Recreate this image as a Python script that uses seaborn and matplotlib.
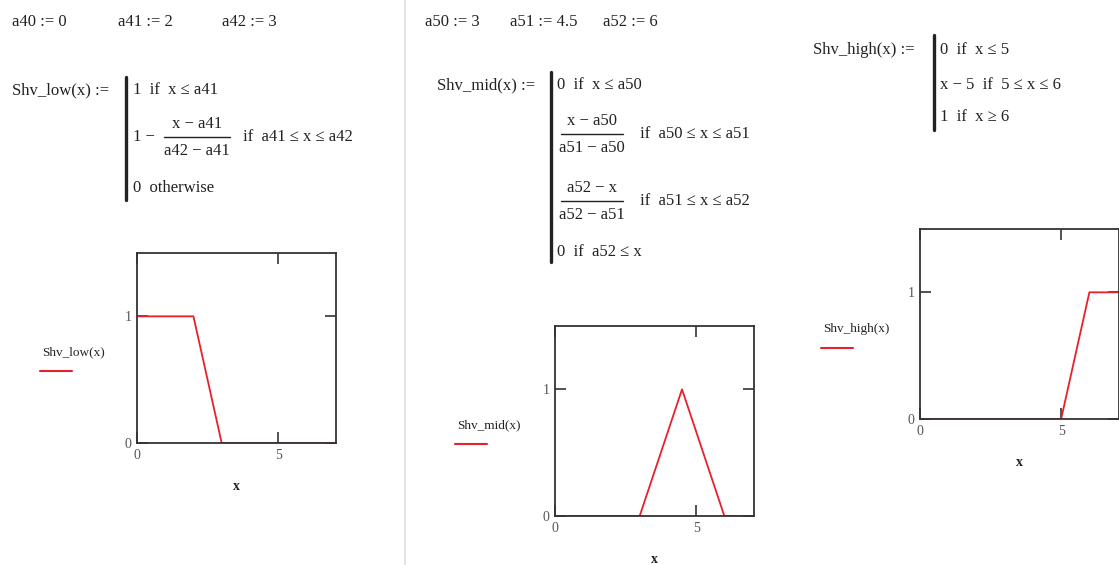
import numpy as np
import pandas as pd
import seaborn as sns
import matplotlib.pyplot as plt
from matplotlib.lines import Line2D

# breakpoints of the three membership functions
low_x = [0, 2, 3, 7]
low_y = [1, 1, 0, 0]
mid_x = [0, 3, 4.5, 6, 7]
mid_y = [0, 0, 1, 0, 0]
high_x = [0, 5, 6, 7]
high_y = [0, 0, 1, 1]
x_ticks = [0, 5]
y_ticks = [0, 1]

sns.set_style('white')
plt.rcParams['font.family'] = ['Liberation Serif', 'DejaVu Serif']

W, H = 1119, 565
fig = plt.figure(figsize=(W / 100, H / 100), dpi=100)
TXT = '#222222'


def t(x, y, s, size=12, ha='left', **kw):
    fig.text(x / W, 1 - y / H, s, fontsize=size, ha=ha, va='center', color=TXT, **kw)


def hline(x0, x1, y, color=TXT, lw=1.0):
    fig.add_artist(Line2D([x0 / W, x1 / W], [1 - y / H, 1 - y / H], color=color, lw=lw))


def vline(x, y0, y1, color=TXT, lw=2.4):
    fig.add_artist(Line2D([x / W, x / W], [1 - y0 / H, 1 - y1 / H], color=color, lw=lw))


def frac(cx, y, num, den, half=33):
    t(cx, y - 13, num, ha='center')
    hline(cx - half, cx + half, y)
    t(cx, y + 14, den, ha='center')


def panel(left, top, xs, ys, name, leg_x, leg_y):
    ax = fig.add_axes([left / W, 1 - (top + 190) / H, 199 / W, 190 / H])
    df = pd.DataFrame({'x': xs, 'y': ys})
    sns.lineplot(data=df, x='x', y='y', ax=ax, color='#e8202a', lw=1.3)
    ax.set_xlim(0, 7.05)
    ax.set_ylim(0, 1.5)
    ax.set_xticks(x_ticks)
    ax.set_yticks(y_ticks)
    ax.tick_params(direction='in', length=8, width=1.2, color='#333333',
                   top=True, right=True, bottom=True, left=True,
                   labelsize=10, labelcolor='#555555', pad=4)
    for sp in ax.spines.values():
        sp.set_color('#333333')
        sp.set_linewidth(1.3)
    ax.set_xlabel('x', fontsize=10, color=TXT, labelpad=13, fontweight='bold')
    ax.set_ylabel('')
    t(leg_x, leg_y, name, size=9.5)
    hline(leg_x - 2, leg_x + 30, leg_y + 19, color='#e8202a', lw=1.5)
    return ax


# separator
vline(405, 0, 565, color='#dddddd', lw=1.2)

# left block
t(12, 22, 'a40 := 0')
t(118, 22, 'a41 := 2')
t(222, 22, 'a42 := 3')
t(12, 90, 'Shv_low(x) :=')
vline(126, 77, 200)
t(133, 90, '1  if  x ≤ a41')
t(133, 137, '1 −')
frac(197, 137, 'x − a41', 'a42 − a41')
t(243, 137, 'if  a41 ≤ x ≤ a42')
t(133, 188, '0  otherwise')

# middle block
t(425, 22, 'a50 := 3')
t(510, 22, 'a51 := 4.5')
t(603, 22, 'a52 := 6')
t(437, 85, 'Shv_mid(x) :=')
vline(551, 72, 262)
t(557, 85, '0  if  x ≤ a50')
frac(592, 134, 'x − a50', 'a51 − a50', half=31)
t(640, 134, 'if  a50 ≤ x ≤ a51')
frac(592, 201, 'a52 − x', 'a52 − a51', half=31)
t(640, 201, 'if  a51 ≤ x ≤ a52')
t(557, 252, '0  if  a52 ≤ x')

# right block
t(813, 50, 'Shv_high(x) :=')
vline(934, 35, 130)
t(940, 50, '0  if  x ≤ 5')
t(940, 85, 'x − 5  if  5 ≤ x ≤ 6')
t(940, 117, '1  if  x ≥ 6')

panel(137, 253, low_x, low_y, 'Shv_low(x)', 42, 352)
panel(555, 326, mid_x, mid_y, 'Shv_mid(x)', 457, 425)
panel(920, 229, high_x, high_y, 'Shv_high(x)', 823, 329)

fig.savefig('out.png', dpi=100)
